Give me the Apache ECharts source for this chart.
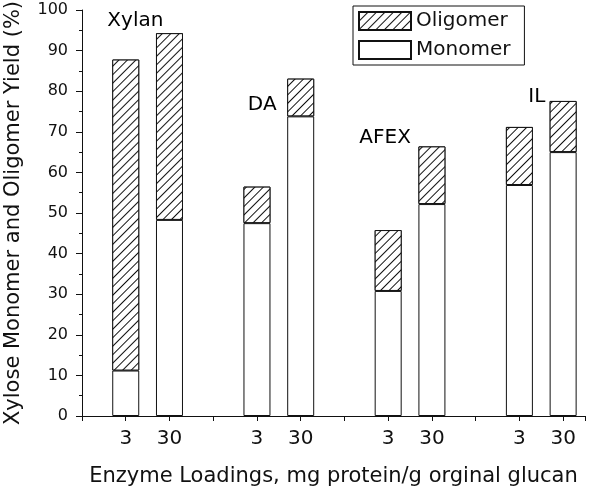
<!DOCTYPE html>
<html>
<head>
<meta charset="utf-8">
<script src="https://cdn.jsdelivr.net/npm/echarts@6/dist/echarts.min.js"></script>
<style>
  html, body { margin: 0; padding: 0; background: #fff; }
  #chart { width: 600px; height: 491px; }
</style>
</head>
<body>
<div id="chart"></div>
<script>
// half-step slots along the x axis; bars sit on slots 2,4 / 8,10 / 14,16 / 20,22
const tickLabels = ['', '', '3', '', '30', '', '', '', '3', '', '30', '', '', '', '3', '', '30', '', '', '', '3', '', '30', '']
const barSlots = [2, 4, 8, 10, 14, 16, 20, 22]
const monomer = [11.2, 48.3, 47.5, 73.8, 30.8, 52.2, 56.9, 65.0]
const oligomer = [76.6, 46.0, 9.0, 9.3, 15.0, 14.2, 14.3, 12.6]

// pretreatment names, placed in slot units
const groupNames = ['Xylan', 'DA', 'AFEX', 'IL']
const groupLabelX = [2.44, 8.24, 13.86, 20.8]
const groupLabelY = [97.3, 76.6, 68.5, 78.6]

const FONT = 'DejaVu Sans'
const INK = '#111'

const chart = echarts.init(document.getElementById('chart'))

function toSlots(values) {
  const out = tickLabels.map(() => '-')
  barSlots.forEach((s, i) => { out[s] = values[i] })
  return out
}

const hatch = {
  symbol: 'rect',
  color: INK,
  backgroundColor: '#fff',
  dashArrayX: [1, 0],
  dashArrayY: [1, 5],
  rotation: -Math.PI / 4,
}

chart.setOption({
  animation: false,
  backgroundColor: '#fff',
  textStyle: { fontFamily: FONT, color: INK },
  grid: {
    left: 82,
    right: 15,
    top: 10,
    bottom: 75,
    containLabel: false,
    outerBoundsMode: 'none',
  },
  legend: {
    data: ['Oligomer', 'Monomer'],
    orient: 'vertical',
    left: 353,
    top: 6,
    icon: 'rect',
    itemWidth: 52,
    itemHeight: 18,
    itemGap: 9,
    padding: [5, 14, 5, 5],
    borderColor: INK,
    borderWidth: 1,
    textStyle: { fontFamily: FONT, fontSize: 20, color: INK },
    selectedMode: false,
  },
  xAxis: [
    {
      type: 'category',
      data: tickLabels.map((t, i) => 's' + i),
      boundaryGap: false,
      name: 'Enzyme Loadings, mg protein/g orginal glucan',
      nameLocation: 'middle',
      nameGap: 50,
      nameTextStyle: { fontFamily: FONT, fontSize: 21, color: INK },
      axisLine: { show: true, onZero: false, lineStyle: { color: INK, width: 1 } },
      axisTick: { show: true, length: 5, interval: 1, alignWithLabel: true, lineStyle: { color: INK } },
      axisLabel: {
        interval: 0,
        margin: 13,
        fontFamily: FONT,
        fontSize: 20,
        color: INK,
        formatter: (v, i) => tickLabels[i] || '',
      },
      splitLine: { show: false },
    },
    {
      // hidden helper axis so the group names can sit between slots
      type: 'value',
      min: 0,
      max: tickLabels.length - 1,
      show: false,
    },
  ],
  yAxis: {
    type: 'value',
    min: 0,
    max: 100,
    interval: 10,
    name: 'Xylose Monomer and Oligomer Yield (%)',
    nameLocation: 'middle',
    nameRotate: 90,
    nameGap: 58,
    nameTextStyle: { fontFamily: FONT, fontSize: 21, color: INK },
    axisLine: { show: true, lineStyle: { color: INK, width: 1 } },
    axisTick: { show: true, length: 6, lineStyle: { color: INK } },
    minorTick: { show: true, splitNumber: 2, length: 3, lineStyle: { color: INK } },
    axisLabel: { margin: 14, fontFamily: FONT, fontSize: 16, color: INK },
    splitLine: { show: false },
  },
  series: [
    {
      name: 'Monomer',
      type: 'bar',
      stack: 'yield',
      barWidth: 27,
      data: toSlots(monomer),
      itemStyle: { color: '#fff', borderColor: INK, borderWidth: 1 },
    },
    {
      name: 'Oligomer',
      type: 'bar',
      stack: 'yield',
      barWidth: 27,
      data: toSlots(oligomer),
      itemStyle: { color: '#fff', borderColor: INK, borderWidth: 1, decal: hatch },
    },
    {
      name: 'groups',
      type: 'scatter',
      xAxisIndex: 1,
      symbolSize: 0,
      silent: true,
      itemStyle: { opacity: 1 },
      data: groupNames.map((n, i) => ({ name: n, value: [groupLabelX[i], groupLabelY[i]] })),
      label: {
        show: true,
        position: 'inside',
        formatter: p => p.name,
        fontFamily: FONT,
        fontSize: 20,
        color: '#000',
      },
    },
  ],
})
</script>
</body>
</html>
